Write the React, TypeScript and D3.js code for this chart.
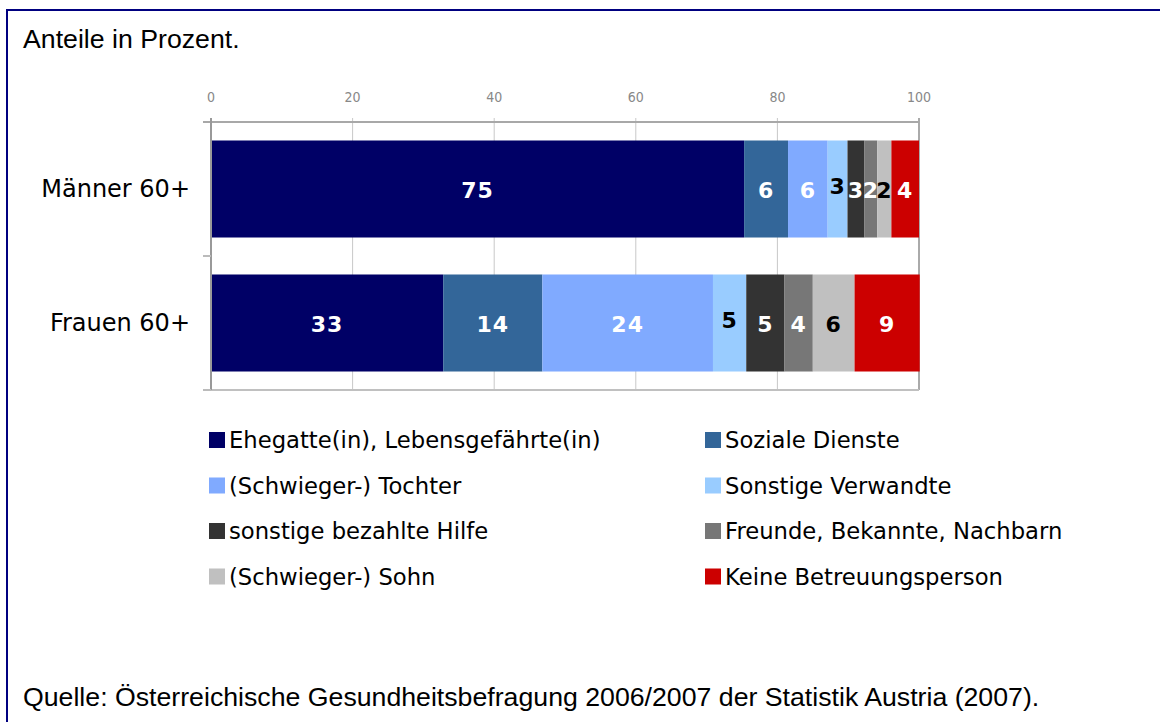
import React, { useEffect, useRef } from 'react';
import * as d3 from 'd3';

const categories = ['Männer 60+', 'Frauen 60+'];

const seriesNames = [
  'Ehegatte(in), Lebensgefährte(in)',
  'Soziale Dienste',
  '(Schwieger-) Tochter',
  'Sonstige Verwandte',
  'sonstige bezahlte Hilfe',
  'Freunde, Bekannte, Nachbarn',
  '(Schwieger-) Sohn',
  'Keine Betreuungsperson',
];

const seriesColors = ['#000066', '#336699', '#80AAFF', '#99CCFF', '#333333', '#777777', '#C0C0C0', '#CC0000'];
const labelColors = ['#fff', '#fff', '#fff', '#000', '#fff', '#fff', '#000', '#fff'];

// shares per series, in order of categories
const maennerValues = [75.3, 6.2, 5.6, 2.8, 2.4, 1.8, 2.0, 3.9];
const frauenValues = [32.8, 14.0, 24.1, 4.7, 5.4, 4.0, 5.9, 9.2];
const maennerLabels = ['75', '6', '6', '3', '3', '2', '2', '4'];
const frauenLabels = ['33', '14', '24', '5', '5', '4', '6', '9'];

const xTicks = [0, 20, 40, 60, 80, 100];

const App: React.FC = () => {
  const svgRef = useRef<SVGSVGElement>(null);

  useEffect(() => {
    if (!svgRef.current) return;
    const svg = d3.select(svgRef.current);
    svg.selectAll('*').remove();

    const plot = { left: 211, right: 919, top: 122, bottom: 390 };

    const x = d3.scaleLinear().domain([0, 100]).range([plot.left, plot.right]);
    const y = d3.scaleBand<string>()
      .domain(categories)
      .range([plot.top, plot.bottom])
      .paddingInner(0.276)
      .paddingOuter(0.138);

    // frame
    svg.append('rect')
      .attr('x', 7).attr('y', 10)
      .attr('width', 1170).attr('height', 740)
      .attr('fill', 'none')
      .attr('stroke', '#000080')
      .attr('stroke-width', 2);

    svg.append('text')
      .attr('x', 23).attr('y', 48)
      .attr('font-family', '"Liberation Sans", Arial, sans-serif')
      .attr('font-size', 26.7)
      .attr('fill', '#000')
      .text('Anteile in Prozent.');

    svg.append('text')
      .attr('x', 23).attr('y', 706)
      .attr('font-family', '"Liberation Sans", Arial, sans-serif')
      .attr('font-size', 26.7)
      .attr('fill', '#000')
      .text('Quelle: Österreichische Gesundheitsbefragung 2006/2007 der Statistik Austria (2007).');

    // gridlines
    svg.selectAll('.grid')
      .data(xTicks.filter((t) => t > 0 && t < 100))
      .enter()
      .append('line')
      .attr('x1', (d) => x(d)).attr('x2', (d) => x(d))
      .attr('y1', plot.top - 4).attr('y2', plot.bottom)
      .attr('stroke', '#c8c8c8')
      .attr('stroke-width', 1);

    // plot border right / bottom
    svg.append('line')
      .attr('x1', plot.right).attr('x2', plot.right)
      .attr('y1', plot.top - 4).attr('y2', plot.bottom)
      .attr('stroke', '#aaaaaa').attr('stroke-width', 2);
    svg.append('line')
      .attr('x1', plot.left - 8).attr('x2', plot.right)
      .attr('y1', plot.bottom).attr('y2', plot.bottom)
      .attr('stroke', '#c0c0c0').attr('stroke-width', 2);

    // top value axis
    svg.append('line')
      .attr('x1', plot.left - 8).attr('x2', plot.right)
      .attr('y1', plot.top).attr('y2', plot.top)
      .attr('stroke', '#a8a8a8').attr('stroke-width', 2);

    svg.selectAll('.tick-label')
      .data(xTicks)
      .enter()
      .append('text')
      .attr('x', (d) => x(d))
      .attr('y', 102)
      .attr('text-anchor', 'middle')
      .attr('font-family', '"Liberation Sans Narrow", "DejaVu Sans Condensed", sans-serif')
      .attr('font-size', 14)
      .attr('fill', '#888888')
      .text((d) => String(d));

    // bars
    const rows = [
      { cat: categories[0], values: maennerValues, labels: maennerLabels },
      { cat: categories[1], values: frauenValues, labels: frauenLabels },
    ];

    rows.forEach((row) => {
      const stacked = d3.cumsum(row.values);
      const segs = row.values.map((v, i) => ({
        i,
        x0: stacked[i] - v,
        x1: stacked[i],
        label: row.labels[i],
      }));
      const yb = y(row.cat)!;
      const g = svg.append('g');

      g.selectAll('rect')
        .data(segs)
        .enter()
        .append('rect')
        .attr('x', (d) => x(d.x0))
        .attr('y', yb)
        .attr('width', (d) => x(d.x1) - x(d.x0))
        .attr('height', y.bandwidth())
        .attr('fill', (d) => seriesColors[d.i]);

      g.selectAll('text')
        .data(segs)
        .enter()
        .append('text')
        .attr('x', (d) => (x(d.x0) + x(d.x1)) / 2)
        .attr('y', (d) => yb + y.bandwidth() / 2 + (d.i === 3 ? -3 : 1))
        .attr('text-anchor', 'middle')
        .attr('dominant-baseline', 'central')
        .attr('font-family', '"DejaVu Sans", Verdana, sans-serif')
        .attr('font-weight', 'bold')
        .attr('font-size', 22)
        .attr('letter-spacing', 1)
        .attr('fill', (d) => labelColors[d.i])
        .text((d) => d.label);

      svg.append('text')
        .attr('x', 190)
        .attr('y', yb + y.bandwidth() / 2)
        .attr('text-anchor', 'end')
        .attr('dominant-baseline', 'central')
        .attr('font-family', '"DejaVu Sans", Verdana, sans-serif')
        .attr('font-size', 24)
        .attr('fill', '#000')
        .text(row.cat);
    });

    // category axis (left)
    svg.append('line')
      .attr('x1', plot.left).attr('x2', plot.left)
      .attr('y1', plot.top - 4).attr('y2', plot.bottom)
      .attr('stroke', '#999999').attr('stroke-width', 2);
    const step = y.step();
    [plot.top + step, plot.bottom].forEach((ty) => {
      svg.append('line')
        .attr('x1', plot.left - 8).attr('x2', plot.left)
        .attr('y1', ty).attr('y2', ty)
        .attr('stroke', '#bbbbbb').attr('stroke-width', 2);
    });

    // legend
    const legend = svg.append('g');
    const colX = [209, 705];
    const rowY0 = 440;
    const rowStep = 45.5;
    seriesNames.forEach((name, i) => {
      const cx = colX[i % 2];
      const cy = rowY0 + Math.floor(i / 2) * rowStep;
      legend.append('rect')
        .attr('x', cx).attr('y', cy - 8)
        .attr('width', 16).attr('height', 16)
        .attr('fill', seriesColors[i]);
      legend.append('text')
        .attr('x', cx + 20)
        .attr('y', cy)
        .attr('dominant-baseline', 'central')
        .attr('font-family', '"DejaVu Sans", Verdana, sans-serif')
        .attr('font-size', 22.7)
        .attr('fill', '#000')
        .text(name);
    });
  }, []);

  return (
    <svg
      ref={svgRef}
      width={1160}
      height={722}
      style={{ position: 'absolute', left: 0, top: 0, background: '#fff' }}
    />
  );
};

export default App;
